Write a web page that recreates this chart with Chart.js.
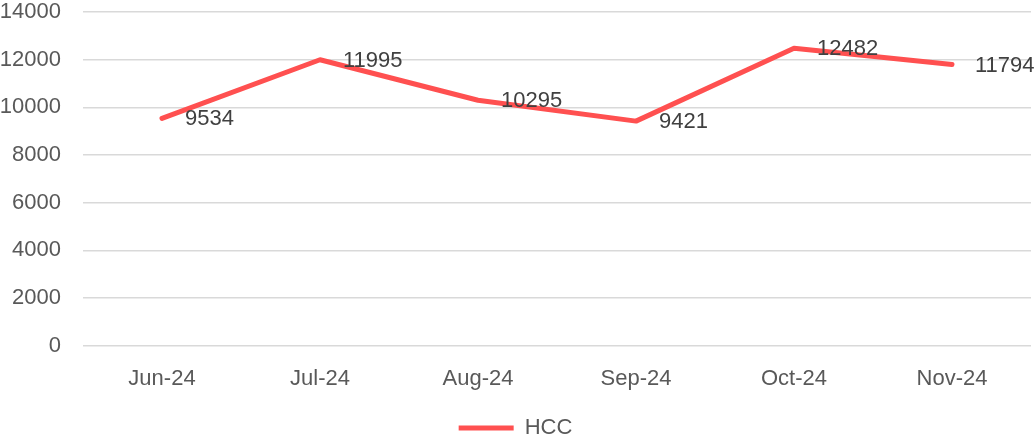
<!DOCTYPE html>
<html>
<head>
<meta charset="utf-8">
<script src="https://cdn.jsdelivr.net/npm/chart.js@4/dist/chart.umd.min.js"></script>
<style>
  html, body { margin: 0; padding: 0; background: #fff; }
  #wrap { width: 1035px; height: 439px; }
</style>
</head>
<body>
<div id="wrap"><canvas id="c" width="1035" height="439"></canvas></div>
<script>
const categories = ["Jun-24", "Jul-24", "Aug-24", "Sep-24", "Oct-24", "Nov-24"];
const seriesName = "HCC";
const hccValues = [9534, 11995, 10295, 9421, 12482, 11794];
const yTicks = [0, 2000, 4000, 6000, 8000, 10000, 12000, 14000];

const FONT = "'Liberation Sans', Arial, sans-serif";
const FS = 22;

const dataLabels = {
  id: 'dataLabels',
  afterDatasetsDraw(chart) {
    const ctx = chart.ctx;
    chart.data.datasets.forEach((ds, i) => {
      const meta = chart.getDatasetMeta(i);
      meta.data.forEach((pt, j) => {
        ctx.save();
        ctx.font = FS + "px " + FONT;
        ctx.fillStyle = "#404040";
        ctx.textAlign = "left";
        ctx.textBaseline = "middle";
        ctx.fillText(String(ds.data[j]), pt.x + 23, pt.y + 1);
        ctx.restore();
      });
    });
  }
};

new Chart(document.getElementById('c'), {
  type: 'line',
  data: {
    labels: categories,
    datasets: [{
      label: seriesName,
      data: hccValues,
      borderColor: '#FF5050',
      backgroundColor: '#FF5050',
      borderWidth: 5,
      borderCapStyle: 'round',
      borderJoinStyle: 'round',
      pointRadius: 0,
      tension: 0,
      fill: false
    }]
  },
  options: {
    responsive: false,
    animation: false,
    layout: { padding: { left: 0, right: 4, top: 0, bottom: -10 } },
    plugins: {
      legend: {
        position: 'bottom',
        labels: {
          usePointStyle: true,
          pointStyle: 'line',
          pointStyleWidth: 55,
          color: '#595959',
          font: { family: FONT, size: FS },
          padding: 2
        }
      },
      tooltip: { enabled: false }
    },
    scales: {
      x: {
        offset: true,
        grid: { display: false },
        border: { display: false },
        ticks: { color: '#595959', font: { family: FONT, size: FS }, padding: 12 },
        afterFit(axis) { axis.paddingLeft = 0; axis.paddingRight = 0; axis.height += 11; }
      },
      y: {
        min: 0,
        max: 14000,
        afterBuildTicks(axis) { axis.ticks = yTicks.map(v => ({ value: v })); },
        grid: { color: '#d9d9d9', lineWidth: 1.5, drawTicks: false },
        border: { display: false },
        ticks: {
          color: '#595959', font: { family: FONT, size: FS }, padding: 22,
          callback: (v) => String(v)
        },
        afterFit(axis) { axis.width = 83; axis.paddingTop = 12; axis.paddingBottom = 0; }
      }
    }
  },
  plugins: [dataLabels]
});
</script>
</body>
</html>
